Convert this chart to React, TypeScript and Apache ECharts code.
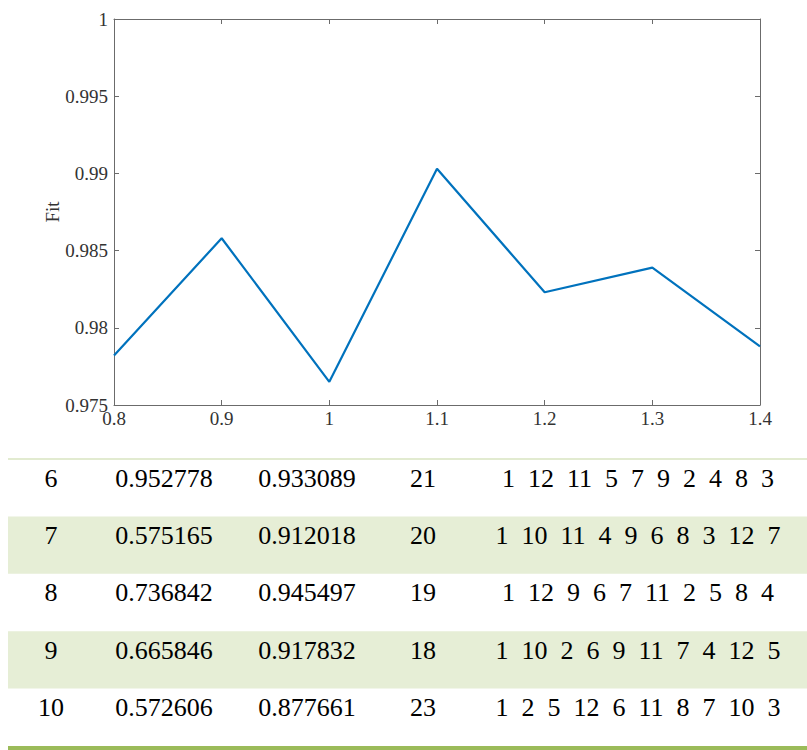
import React, { useEffect, useRef } from "react";
import * as echarts from "echarts";

// ---- chart data ----
const xValues = [0.8, 0.9, 1.0, 1.1, 1.2, 1.3, 1.4];
const fitValues = [0.9782, 0.9858, 0.9765, 0.9903, 0.9823, 0.9839, 0.9788];

// ---- table data ----
const rowIds = [6, 7, 8, 9, 10];
const col2Values = [0.952778, 0.575165, 0.736842, 0.665846, 0.572606];
const col3Values = [0.933089, 0.912018, 0.945497, 0.917832, 0.877661];
const col4Values = [21, 20, 19, 18, 23];
const sequences = [
  [1, 12, 11, 5, 7, 9, 2, 4, 8, 3],
  [1, 10, 11, 4, 9, 6, 8, 3, 12, 7],
  [1, 12, 9, 6, 7, 11, 2, 5, 8, 4],
  [1, 10, 2, 6, 9, 11, 7, 4, 12, 5],
  [1, 2, 5, 12, 6, 11, 8, 7, 10, 3],
];

const SERIF = "Liberation Serif";
const AXIS_COLOR = "#6b6b6b";
const LABEL_COLOR = "#333";

export default function App() {
  const ref = useRef<HTMLDivElement>(null);

  useEffect(() => {
    if (!ref.current) return;
    const chart = echarts.init(ref.current, undefined, { renderer: "svg" });

    const tableTop = 459;
    const rowH = 57.4;
    const tableLeft = 8;
    const tableRight = 807;
    const textOffset = 19;
    const colX = [51, 164, 307, 423, 638];

    const graphics: any[] = [];
    rowIds.forEach((_, i) => {
      if (i % 2 === 1) {
        graphics.push({
          type: "rect",
          silent: true,
          shape: { x: tableLeft, y: tableTop + i * rowH, width: tableRight - tableLeft, height: rowH },
          style: { fill: "#E6EED6" },
        });
      }
    });
    graphics.push({
      type: "rect",
      silent: true,
      shape: { x: tableLeft, y: tableTop - 1, width: tableRight - tableLeft, height: 2 },
      style: { fill: "#E2EBD0" },
    });
    graphics.push({
      type: "rect",
      silent: true,
      shape: { x: tableLeft, y: tableTop + rowIds.length * rowH, width: tableRight - tableLeft, height: 5 },
      style: { fill: "#9BBB59" },
    });

    const txt = (s: string, x: number, y: number) => ({
      type: "text",
      silent: true,
      x,
      y,
      style: {
        text: s,
        fill: "#000",
        font: "26px 'Liberation Serif'",
        fontSize: 26,
        fontFamily: SERIF,
        align: "center",
        textAlign: "center",
        verticalAlign: "middle",
        textVerticalAlign: "middle",
      },
    });

    rowIds.forEach((id, i) => {
      const y = tableTop + i * rowH + textOffset;
      graphics.push(txt(String(id), colX[0], y));
      graphics.push(txt(col2Values[i].toFixed(6), colX[1], y));
      graphics.push(txt(col3Values[i].toFixed(6), colX[2], y));
      graphics.push(txt(String(col4Values[i]), colX[3], y));
      graphics.push(txt(sequences[i].join("\u2002"), colX[4], y));
    });

    const lineStyle = { color: AXIS_COLOR, width: 1 };
    const xFmt = (v: number) => String(+v.toFixed(1));
    const yFmt = (v: number) => String(+v.toFixed(3));

    chart.setOption({
      animation: false,
      backgroundColor: "#fff",
      grid: { left: 114, right: 47, top: 19, height: 386, containLabel: false },
      xAxis: [
        {
          type: "value",
          position: "bottom",
          min: 0.8,
          max: 1.4,
          interval: 0.1,
          axisLine: { show: true, onZero: false, lineStyle },
          axisTick: { show: true, inside: true, length: 5, lineStyle },
          axisLabel: { fontFamily: SERIF, fontSize: 19, color: LABEL_COLOR, margin: 4, formatter: xFmt },
          splitLine: { show: false },
        },
        {
          type: "value",
          position: "top",
          min: 0.8,
          max: 1.4,
          interval: 0.1,
          axisLine: { show: true, onZero: false, lineStyle },
          axisTick: { show: true, inside: true, length: 5, lineStyle },
          axisLabel: { show: false },
          splitLine: { show: false },
        },
      ],
      yAxis: [
        {
          type: "value",
          position: "left",
          min: 0.975,
          max: 1,
          interval: 0.005,
          name: "Fit",
          nameLocation: "middle",
          nameGap: 52,
          nameMoveOverlap: false,
          nameTextStyle: { fontFamily: SERIF, fontSize: 19, color: LABEL_COLOR },
          axisLine: { show: true, onZero: false, lineStyle },
          axisTick: { show: true, inside: true, length: 5, lineStyle },
          axisLabel: { fontFamily: SERIF, fontSize: 19, color: LABEL_COLOR, margin: 6, formatter: yFmt },
          splitLine: { show: false },
        },
        {
          type: "value",
          position: "right",
          min: 0.975,
          max: 1,
          interval: 0.005,
          axisLine: { show: true, onZero: false, lineStyle },
          axisTick: { show: true, inside: true, length: 5, lineStyle },
          axisLabel: { show: false },
          splitLine: { show: false },
        },
      ],
      series: [
        {
          type: "line",
          xAxisIndex: 0,
          yAxisIndex: 0,
          data: xValues.map((x, i) => [x, fitValues[i]]),
          showSymbol: false,
          symbol: "none",
          lineStyle: { color: "#0072BD", width: 2.2 },
          itemStyle: { color: "#0072BD" },
        },
      ],
      graphic: graphics,
    });

    return () => chart.dispose();
  }, []);

  return (
    <div
      ref={ref}
      style={{ position: "absolute", left: 0, top: 0, width: 807, height: 750, background: "#fff" }}
    />
  );
}
